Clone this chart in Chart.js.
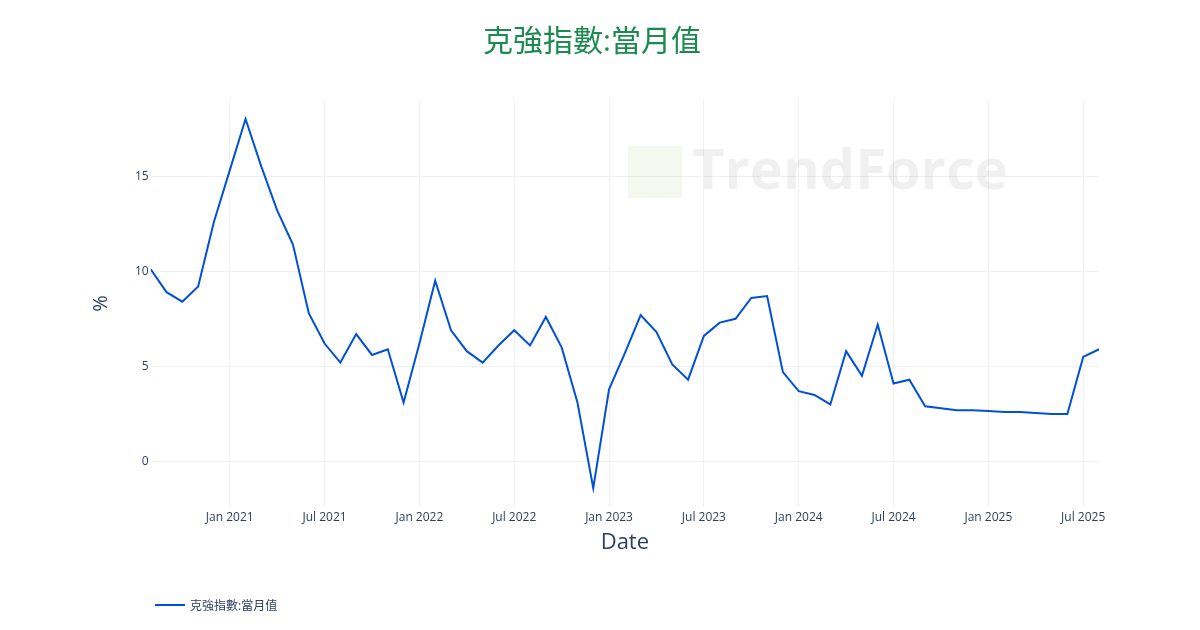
<!DOCTYPE html>
<html>
<head>
<meta charset="utf-8">
<script src="https://cdn.jsdelivr.net/npm/chart.js@4"></script>
<style>
  html, body { margin: 0; padding: 0; background: #fff; }
  #wrap { width: 1200px; height: 630px; position: relative; }
  #legend { position: absolute; left: 155px; top: 596px; font: 12px 'Open Sans', 'Noto Sans CJK TC', sans-serif; color: #2a3f5f; display: flex; align-items: center; }
  #legend span.sw { display: inline-block; width: 30px; height: 2px; background: #0050d8; margin-right: 5px; }
</style>
</head>
<body>
<div id="wrap"><canvas id="chart" width="1200" height="630"></canvas>
<div id="legend"><span class="sw"></span><span id="legendText"></span></div></div>
<script>
// 月份索引 0 = 2020年8月
const monthLabels = ["Jan 2021", "Jul 2021", "Jan 2022", "Jul 2022", "Jan 2023", "Jul 2023", "Jan 2024", "Jul 2024", "Jan 2025", "Jul 2025"];
const tickPositions = [5, 11, 17, 23, 29, 35, 41, 47, 53, 59];
const values = [
  10.1, 8.9, 8.4, 9.2, 12.6,
  15.3, 18.0, 15.5, 13.2, 11.4, 7.8, 6.2, 5.2, 6.7, 5.6, 5.9, 3.1,
  6.2, 9.5, 6.9, 5.8, 5.2, 6.1, 6.9, 6.1, 7.6, 6.0, 3.1, -1.4,
  3.8, 5.7, 7.7, 6.8, 5.1, 4.3, 6.6, 7.3, 7.5, 8.6, 8.7, 4.7,
  3.7, 3.5, 3.0, 5.8, 4.5, 7.2, 4.1, 4.3, 2.9, 2.8, 2.7, 2.7,
  2.65, 2.6, 2.6, 2.55, 2.5, 2.5, 5.5, 5.9
];
const yTicks = [0, 5, 10, 15];
const seriesName = "克強指數:當月值";

document.getElementById('legendText').textContent = seriesName;
const points = values.map((v, i) => ({ x: i, y: v }));
const font = "'Open Sans', 'Noto Sans CJK TC', sans-serif";

const watermark = {
  id: 'watermark',
  beforeDatasetsDraw(chart) {
    const c = chart.ctx;
    c.save();
    c.fillStyle = 'rgba(0,0,0,0.06)';
    c.font = "bold 56px 'Open Sans', sans-serif";
    c.textBaseline = 'middle';
    c.fillText('TrendForce', 692, 173);
    c.fillStyle = 'rgba(120,160,40,0.08)';
    c.fillRect(628, 146, 54, 52);
    c.restore();
  }
};

new Chart(document.getElementById('chart'), {
  type: 'line',
  data: {
    datasets: [{
      label: seriesName,
      data: points,
      borderColor: '#0050d8',
      backgroundColor: '#0050d8',
      borderWidth: 2,
      pointRadius: 0,
      tension: 0
    }]
  },
  options: {
    responsive: false,
    animation: false,
    layout: { padding: { left: 85, right: 101, top: 10, bottom: 70 } },
    scales: {
      x: {
        type: 'linear', min: 0, max: 60,
        afterBuildTicks: axis => { axis.ticks = tickPositions.map(v => ({ value: v })); },
        ticks: {
          callback: v => monthLabels[tickPositions.indexOf(v)],
          color: '#2a3f5f', font: { family: font, size: 12 }, maxRotation: 0, autoSkip: false
        },
        grid: { color: '#eef0f4', drawTicks: false },
        border: { display: false },
        title: { display: true, text: 'Date', color: '#2a3f5f', font: { family: font, size: 22 }, padding: { top: 2 } }
      },
      y: {
        min: -2.4, max: 19,
        afterBuildTicks: axis => { axis.ticks = yTicks.map(v => ({ value: v })); },
        ticks: { color: '#2a3f5f', font: { family: font, size: 12 }, padding: 2 },
        grid: { color: '#eef0f4', drawTicks: false },
        border: { display: false },
        title: { display: true, text: '%', color: '#2a3f5f', font: { family: font, size: 20 }, padding: { bottom: 20 } }
      }
    },
    plugins: {
      title: {
        display: true, text: seriesName, color: '#1a8a4f',
        font: { family: font, size: 30, weight: 'normal' }, padding: { top: 14, bottom: 40 }
      },
      legend: { display: false },
      tooltip: { enabled: false }
    }
  },
  plugins: [watermark]
});
</script>
</body>
</html>
